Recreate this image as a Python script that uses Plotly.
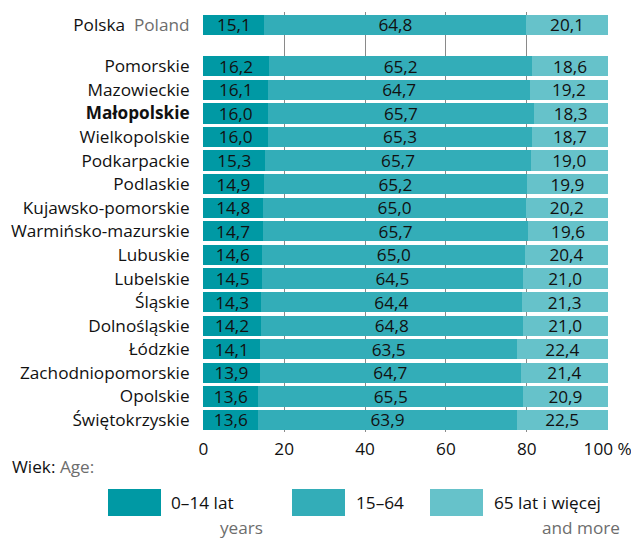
import plotly.graph_objects as go

# Population by age group, share of total (%)
regions = [
    "Polska", "Pomorskie", "Mazowieckie", "Małopolskie", "Wielkopolskie",
    "Podkarpackie", "Podlaskie", "Kujawsko-pomorskie", "Warmińsko-mazurskie",
    "Lubuskie", "Lubelskie", "Śląskie", "Dolnośląskie", "Łódzkie",
    "Zachodniopomorskie", "Opolskie", "Świętokrzyskie",
]
age_0_14 = [15.1, 16.2, 16.1, 16.0, 16.0, 15.3, 14.9, 14.8, 14.7, 14.6,
            14.5, 14.3, 14.2, 14.1, 13.9, 13.6, 13.6]
age_15_64 = [64.8, 65.2, 64.7, 65.7, 65.3, 65.7, 65.2, 65.0, 65.7, 65.0,
             64.5, 64.4, 64.8, 63.5, 64.7, 65.5, 63.9]
age_65_plus = [20.1, 18.6, 19.2, 18.3, 18.7, 19.0, 19.9, 20.2, 19.6, 20.4,
               21.0, 21.3, 21.0, 22.4, 21.4, 20.9, 22.5]
x_ticks = [0, 20, 40, 60, 80, 100]
x_tick_labels = ["0", "20", "40", "60", "80", "100 %"]

FONT = "Open Sans"
FS = 17.2
C1, C2, C3 = "#0099A4", "#33ADB8", "#66C2CA"
INK = "#111111"
GREY = "#6d6d6d"

# Country row on top, then regions after a gap
ypos = [0.0] + [1.75 + i for i in range(len(regions) - 1)]

def label(name):
    if name == "Polska":
        return f"Polska  <span style='color:{GREY}'>Poland</span>"
    if name == "Małopolskie":
        return "<b>Małopolskie</b>"
    return name

def fmt(v):
    return f"{v:.1f}".replace(".", ",")

fig = go.Figure()
for vals, col in [(age_0_14, C1), (age_15_64, C2), (age_65_plus, C3)]:
    fig.add_trace(go.Bar(
        x=vals, y=ypos, orientation="h", width=0.86,
        marker=dict(color=col, line=dict(width=0)),
        text=[fmt(v) for v in vals], textposition="inside",
        insidetextanchor="middle",
        textfont=dict(family=FONT, size=FS, color=INK),
        showlegend=False, hoverinfo="skip",
    ))

fig.update_layout(
    barmode="stack",
    width=631, height=538,
    margin=dict(l=203, r=23, t=12, b=106, autoexpand=False),
    paper_bgcolor="white", plot_bgcolor="white",
    font=dict(family=FONT, size=FS, color=INK),
    uniformtext=dict(minsize=FS, mode="show"),
    xaxis=dict(
        range=[-0.08, 100.08], tickvals=x_ticks, ticktext=x_tick_labels,
        showgrid=True, gridcolor="#8a8a8a", gridwidth=1,
        zeroline=False, showline=False, automargin=False,
        ticklabeloverflow="allow",
        ticks="outside", ticklen=1, tickcolor="rgba(0,0,0,0)",
        tickfont=dict(family=FONT, size=FS, color=INK),
        fixedrange=True,
    ),
    yaxis=dict(
        range=[17.26, -0.55], tickvals=ypos,
        ticktext=[label(r) for r in regions],
        showgrid=False, zeroline=False, showline=False, automargin=False,
        ticks="outside", ticklen=9, tickcolor="rgba(0,0,0,0)",
        tickfont=dict(family=FONT, size=FS, color=INK),
        fixedrange=True,
    ),
)

# Legend drawn manually below the plot (pixel -> paper conversion)
L, W, B, H = 203, 405, 432, 420
def px(x):
    return (x - L) / W
def py(y):
    return (B - y) / H

shapes = []
for x0, col in [(108, C1), (292, C2), (430, C3)]:
    shapes.append(dict(type="rect", xref="paper", yref="paper",
                       x0=px(x0), x1=px(x0 + 53), y0=py(489), y1=py(516),
                       fillcolor=col, line=dict(width=0)))
fig.update_layout(shapes=shapes)

ann = [
    (10, 466, f"Wiek: <span style='color:{GREY}'>Age:</span>", "left"),
    (169, 502, "0–14 lat", "left"),
    (218, 527, f"<span style='color:{GREY}'>years</span>", "left"),
    (354, 502, "15–64", "left"),
    (492, 502, "65 lat i więcej", "left"),
    (622, 527, f"<span style='color:{GREY}'>and more</span>", "right"),
]
for x, y, t, anchor in ann:
    fig.add_annotation(xref="paper", yref="paper", x=px(x), y=py(y),
                       text=t, showarrow=False, xanchor=anchor,
                       yanchor="middle",
                       font=dict(family=FONT, size=FS, color=INK))

fig.write_html("out.html")
